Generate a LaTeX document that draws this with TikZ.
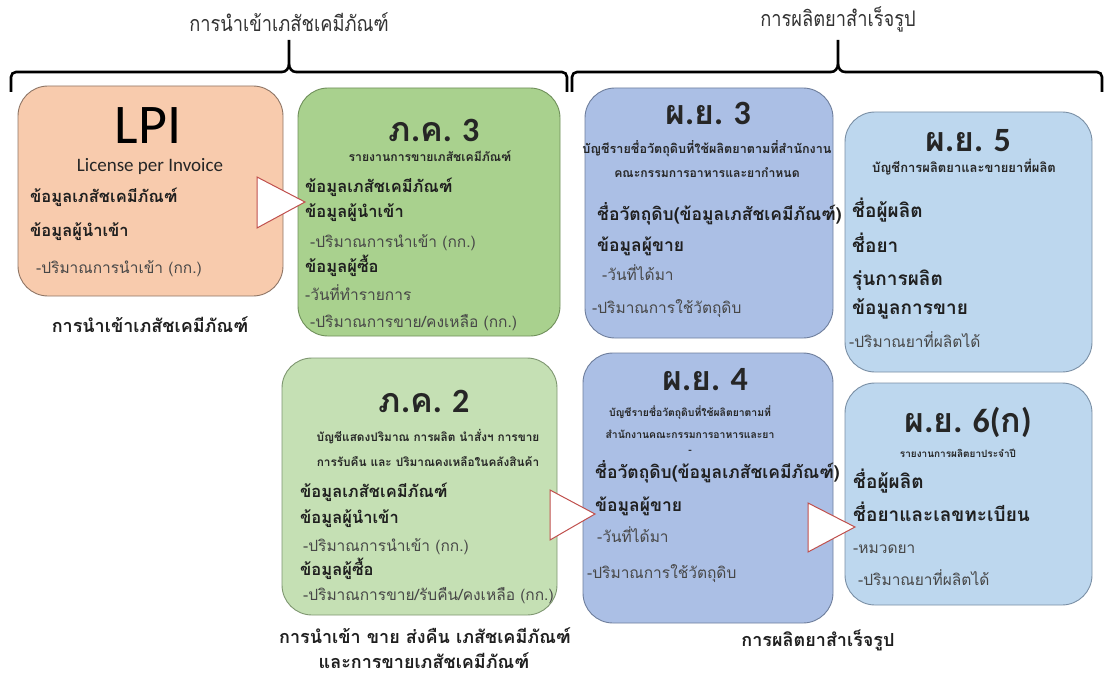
\documentclass[tikz,border=0pt]{standalone}
\usepackage{fontspec}
\newfontfamily\thai[Script=Thai]{Loma}
\newfontfamily\thailight[Script=Thai,FakeStretch=0.85]{Loma}
\newfontfamily\lat{Carlito}
\newcommand\latpart[1]{{\lat #1}}

\definecolor{lpiFill}{HTML}{F8CBAD}
\definecolor{lpiLine}{HTML}{8E7565}
\definecolor{pkThreeFill}{HTML}{A9D18E}
\definecolor{pkThreeLine}{HTML}{6F8F5A}
\definecolor{pkTwoFill}{HTML}{C5E0B4}
\definecolor{pkTwoLine}{HTML}{7E9670}
\definecolor{pyDarkFill}{HTML}{ABBFE5}
\definecolor{pyDarkLine}{HTML}{6E7E9C}
\definecolor{pyLightFill}{HTML}{BDD7EE}
\definecolor{pyLightLine}{HTML}{7A8FA5}
\definecolor{pointerLine}{HTML}{C0504D}

\begin{document}
\begin{tikzpicture}[x=1pt,y=-1pt,
  card/.style={rounded corners=30pt, line width=0.9pt, inner sep=0pt},
  formno/.style={anchor=base, inner sep=0pt, text=black!85, text depth=0pt,
    font=\thai\bfseries\fontsize{34}{34}\selectfont},
  formsub/.style={anchor=base, inner sep=0pt, text=black!85,
    font=\thai\bfseries\fontsize{#1}{#1}\selectfont},
  formsub/.default=12,
  field/.style={anchor=base west, inner sep=0pt, text=black!88,
    font=\thai\bfseries\fontsize{#1}{#1}\selectfont},
  field/.default=16.5,
  detail/.style={anchor=base west, inner sep=0pt, text=black!72,
    font=\thai\fontsize{15.5}{16}\selectfont},
  caption/.style={anchor=base, inner sep=0pt, text=black!88,
    font=\thai\bfseries\fontsize{18}{18}\selectfont},
  grouptitle/.style={anchor=base, inner sep=0pt, text=black!80,
    font=\thailight\fontsize{21.5}{22}\selectfont},
  brace/.style={line width=2.6pt, rounded corners=5pt},
  pointer/.style={fill=white, draw=pointerLine, line width=1pt, line join=miter}
]
\useasboundingbox (0,0) rectangle (1105,679);

% group headings and braces
\node[grouptitle] (gImport) at (289,32) {การนำเข้าเภสัชเคมีภัณฑ์};
\node[grouptitle] (gMake) at (838,27) {การผลิตยาสำเร็จรูป};
\coordinate (tickA) at (289,40);
\coordinate (tickB) at (838,40);
\draw[brace] (11,92) -- (11,72) -- (282,72);
\draw[line width=2.6pt] (282,72) to[out=0,in=-90] (tickA |- 0,64) -- (tickA);
\draw[line width=2.6pt] (tickA |- 0,64) to[out=-90,in=180] (296,72);
\draw[brace] (296,72) -- (567,72) -- (567,92);
\draw[brace] (572,92) -- (572,72) -- (831,72);
\draw[line width=2.6pt] (831,72) to[out=0,in=-90] (tickB |- 0,64) -- (tickB);
\draw[line width=2.6pt] (tickB |- 0,64) to[out=-90,in=180] (845,72);
\draw[brace] (845,72) -- (1102,72) -- (1102,92);

% form cards
\node[card, draw=lpiLine, fill=lpiFill, minimum width=265pt, minimum height=210pt] (lpi) at (150.5,191) {};
\node[card, draw=pkThreeLine, fill=pkThreeFill, minimum width=262pt, minimum height=248pt] (pk3) at (429,212) {};
\node[card, draw=pyDarkLine, fill=pyDarkFill, minimum width=248pt, minimum height=250pt] (py3) at (709,213) {};
\node[card, draw=pyLightLine, fill=pyLightFill, minimum width=247pt, minimum height=260pt] (py5) at (968.5,242) {};
\node[card, draw=pkTwoLine, fill=pkTwoFill, minimum width=275pt, minimum height=257pt] (pk2) at (419.5,486.5) {};
\node[card, draw=pyDarkLine, fill=pyDarkFill, minimum width=250pt, minimum height=270pt] (py4) at (708,488) {};
\node[card, draw=pyLightLine, fill=pyLightFill, minimum width=247pt, minimum height=222pt] (py6) at (968.5,494) {};

% flow pointers between cards
\draw[pointer] (257,177) -- (257,228) -- (305,202) -- cycle;
\draw[pointer] (550,490) -- (550,540) -- (595,514) -- cycle;
\draw[pointer] (808,503) -- (808,552) -- (855,527) -- cycle;

% LPI
\node[anchor=base, inner sep=0pt, text depth=0pt, font=\lat\fontsize{56}{56}\selectfont] (lpiNo) at (148,144) {LPI};
\node[anchor=base, inner sep=0pt, font=\lat\fontsize{19}{19}\selectfont, text=black!85] (lpiSub) at (150,172) {License per Invoice};
\node[field] (lpiF1) at (30,203) {ข้อมูลเภสัชเคมีภัณฑ์};
\node[field] (lpiF2) at (30,236) {ข้อมูลผู้นำเข้า};
\node[detail] (lpiD1) at (36,273) {-ปริมาณการนำเข้า (กก.)};
\node[caption] (lpiCap) at (150,332) {การนำเข้าเภสัชเคมีภัณฑ์};

% ภ.ค. 3
\node[formno] (pk3No) at (434,142) {ภ\latpart{.}ค\latpart{. 3}};
\node[formsub=12.2] (pk3Sub) at (430,162) {รายงานการขายเภสัชเคมีภัณฑ์};
\node[field] (pk3F1) at (305,193) {ข้อมูลเภสัชเคมีภัณฑ์};
\node[field] (pk3F2) at (305,218) {ข้อมูลผู้นำเข้า};
\node[detail] (pk3D1) at (310,247) {-ปริมาณการนำเข้า (กก.)};
\node[field] (pk3F3) at (305,272) {ข้อมูลผู้ซื้อ};
\node[detail] (pk3D2) at (305,300) {-วันที่ทำรายการ};
\node[detail] (pk3D3) at (310,327) {-ปริมาณการขาย/คงเหลือ (กก.)};

% ผ.ย. 3
\node[formno] (py3No) at (708,125) {ผ\latpart{.}ย\latpart{. 3}};
\node[formsub=12.6] (py3Sub1) at (707,154) {บัญชีรายชื่อวัตถุดิบที่ใช้ผลิตยาตามที่สำนักงาน};
\node[formsub=12.2] (py3Sub2) at (707,178) {คณะกรรมการอาหารและยากำหนด};
\node[field=17.5] (py3F1) at (597,221) {ชื่อวัตถุดิบ(ข้อมูลเภสัชเคมีภัณฑ์)};
\node[field=17.5] (py3F2) at (597,251) {ข้อมูลผู้ขาย};
\node[detail] (py3D1) at (602,280) {-วันที่ได้มา};
\node[detail] (py3D2) at (592,313) {-ปริมาณการใช้วัตถุดิบ};

% ผ.ย. 5
\node[formno] (py5No) at (968,152) {ผ\latpart{.}ย\latpart{. 5}};
\node[formsub=13] (py5Sub) at (964,173) {บัญชีการผลิตยาและขายยาที่ผลิต};
\node[field=19] (py5F1) at (852,218) {ชื่อผู้ผลิต};
\node[field=19] (py5F2) at (852,252) {ชื่อยา};
\node[field=19] (py5F3) at (852,285) {รุ่นการผลิต};
\node[field=19] (py5F4) at (852,314) {ข้อมูลการขาย};
\node[detail] (py5D1) at (849,347) {-ปริมาณยาที่ผลิตได้};

% ภ.ค. 2
\node[formno] (pk2No) at (424,412) {ภ\latpart{.}ค\latpart{. 2}};
\node[formsub=11.8] (pk2Sub1) at (428,441) {บัญชีแสดงปริมาณ การผลิต นำสั่งฯ การขาย};
\node[formsub=11.8] (pk2Sub2) at (428,466) {การรับคืน และ ปริมาณคงเหลือในคลังสินค้า};
\node[field] (pk2F1) at (300,497) {ข้อมูลเภสัชเคมีภัณฑ์};
\node[field] (pk2F2) at (300,523) {ข้อมูลผู้นำเข้า};
\node[detail] (pk2D1) at (303,551) {-ปริมาณการนำเข้า (กก.)};
\node[field] (pk2F3) at (300,575) {ข้อมูลผู้ซื้อ};
\node[detail] (pk2D2) at (303,600) {-ปริมาณการขาย/รับคืน/คงเหลือ (กก.)};
\node[caption] (pk2Cap1) at (425,643) {การนำเข้า ขาย ส่งคืน เภสัชเคมีภัณฑ์};
\node[caption] (pk2Cap2) at (424,668) {และการขายเภสัชเคมีภัณฑ์};

% ผ.ย. 4
\node[formno] (py4No) at (705,390) {ผ\latpart{.}ย\latpart{. 4}};
\node[formsub=10.4] (py4Sub1) at (690,416) {บัญชีรายชื่อวัตถุดิบที่ใช้ผลิตยาตามที่};
\node[formsub=10.4] (py4Sub2) at (690,438) {สำนักงานคณะกรรมการอาหารและยา};
\node[formsub=10.4] (py4Mark) at (690,453) {-};
\node[field=17.5] (py4F1) at (595,478) {ชื่อวัตถุดิบ(ข้อมูลเภสัชเคมีภัณฑ์)};
\node[field=17.5] (py4F2) at (595,511) {ข้อมูลผู้ขาย};
\node[detail] (py4D1) at (597,542) {-วันที่ได้มา};
\node[detail] (py4D2) at (587,578) {-ปริมาณการใช้วัตถุดิบ};
\node[caption] (py4Cap) at (818,646) {การผลิตยาสำเร็จรูป};

% ผ.ย. 6(ก)
\node[formno] (py6No) at (968,432) {ผ\latpart{.}ย\latpart{. 6(}ก\latpart{)}};
\node[formsub=10] (py6Sub) at (958,457) {รายงานการผลิตยาประจำปี};
\node[field=19] (py6F1) at (853,488) {ชื่อผู้ผลิต};
\node[field=19] (py6F2) at (853,521) {ชื่อยาและเลขทะเบียน};
\node[detail] (py6D1) at (853,553) {-หมวดยา};
\node[detail] (py6D2) at (858,585) {-ปริมาณยาที่ผลิตได้};
\end{tikzpicture}
\end{document}
